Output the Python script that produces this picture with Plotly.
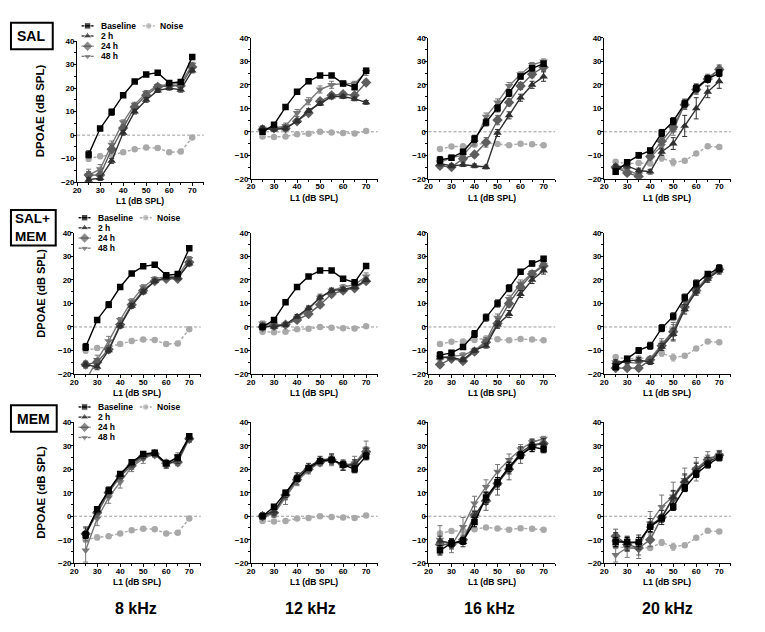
import plotly.graph_objects as go

W, H = 765, 632

L1 = [25, 30, 35, 40, 45, 50, 55, 60, 65, 70]
FREQS = ["8 kHz", "12 kHz", "16 kHz", "20 kHz"]
SERIES = ["Baseline", "2 h", "24 h", "48 h"]
X_TICKS = [20, 30, 40, 50, 60, 70]
Y_TICKS = [-20, -10, 0, 10, 20, 30, 40]

# Noise floor (same for every group at a given frequency)
NOISE_8K = [-10.0, -9.0, -8.5, -7.3, -6.0, -5.3, -5.5, -7.3, -7.0, -1.0]
NOISE_12K = [-2.0, -2.2, -2.0, -1.0, -0.8, 0.0, -0.3, -0.5, -0.7, 0.3]
NOISE_16K = [-7.3, -6.3, -6.2, -5.5, -4.8, -5.2, -5.7, -5.1, -5.3, -5.7]
NOISE_20K = [-12.8, -13.6, -13.3, -13.5, -11.2, -13.0, -12.3, -9.2, -6.2, -6.5]
NOISE_ERR_8K = [1.2, 1.0, 0.5, 0.5, 0.4, 0.4, 0.4, 0.4, 0.4, 0.4]
NOISE_ERR_12K = [0.5, 0.4, 0.4, 0.4, 0.4, 0.4, 0.4, 0.4, 0.4, 0.4]
NOISE_ERR_16K = [0.5, 0.4, 0.4, 0.5, 0.4, 0.4, 0.4, 0.4, 0.4, 0.4]
NOISE_ERR_20K = [0.6, 0.8, 0.8, 0.6, 1.3, 1.5, 0.8, 0.6, 0.6, 0.6]

# Each panel: [Baseline, 2 h, 24 h, 48 h]
SAL_8K = [[-8.2, 2.8, 9.8, 17.0, 22.8, 25.8, 26.6, 22.2, 22.6, 33.3],
          [-19.0, -18.3, -11.0, 1.0, 10.0, 15.0, 19.0, 20.0, 19.3, 27.5],
          [-17.0, -17.0, -6.0, 3.0, 12.0, 17.0, 20.5, 21.0, 21.0, 29.0],
          [-17.0, -14.5, -4.0, 5.5, 13.0, 18.0, 21.0, 21.5, 22.0, 30.0]]
SAL_12K = [[0.0, 3.0, 10.5, 17.0, 21.5, 24.0, 24.0, 20.5, 19.0, 26.0],
           [1.5, 1.0, 1.5, 4.5, 9.0, 12.0, 15.0, 15.0, 14.0, 12.5],
           [1.0, 1.5, 1.5, 4.5, 8.0, 13.0, 15.5, 16.0, 15.5, 21.0],
           [1.5, 1.5, 2.5, 8.0, 13.0, 18.0, 20.0, 20.5, 20.5, 25.5]]
SAL_16K = [[-12.0, -11.0, -8.5, -3.0, 4.0, 10.0, 16.5, 23.5, 27.0, 29.0],
           [-13.5, -14.5, -14.0, -14.5, -15.0, -0.5, 7.0, 14.5, 20.0, 23.5],
           [-14.5, -15.0, -11.5, -9.7, -4.5, 5.0, 12.5, 19.5, 24.5, 27.5],
           [-13.0, -11.0, -10.0, -4.5, 6.5, 12.5, 19.5, 24.5, 28.5, 30.0]]
SAL_20K = [[-17.0, -13.0, -10.0, -8.0, -0.5, 4.5, 12.0, 18.5, 22.5, 25.0],
           [-15.0, -14.5, -16.5, -17.0, -8.5, -5.0, 2.5, 10.0, 17.0, 21.5],
           [-15.0, -17.5, -19.0, -10.5, -4.0, 2.0, 11.5, 18.0, 22.5, 26.5],
           [-15.5, -16.0, -18.5, -11.0, -6.0, 0.5, 12.0, 18.5, 23.0, 26.5]]

SALMEM_8K = [[-8.5, 3.0, 9.5, 17.0, 22.8, 25.8, 26.5, 22.0, 22.5, 33.5],
             [-16.0, -17.0, -10.0, 0.5, 9.0, 15.0, 19.5, 21.0, 21.0, 27.0],
             [-16.0, -15.0, -9.5, 1.0, 9.5, 15.5, 19.5, 20.5, 20.5, 27.5],
             [-23.0, -14.0, -6.0, 3.0, 11.0, 17.0, 20.5, 21.5, 21.5, 29.0]]
SALMEM_12K = [[0.0, 3.0, 10.5, 17.0, 21.5, 24.0, 24.0, 20.5, 19.0, 26.0],
              [0.5, 0.0, 1.0, 4.5, 8.0, 12.5, 15.5, 16.0, 17.0, 20.0],
              [0.0, 0.5, 1.0, 3.0, 5.5, 9.5, 14.0, 15.5, 16.5, 19.5],
              [1.5, 1.0, 1.0, 4.0, 7.5, 12.5, 15.5, 17.0, 18.0, 21.5]]
SALMEM_16K = [[-12.0, -11.0, -8.5, -3.0, 4.0, 10.0, 16.5, 23.5, 27.0, 29.0],
              [-13.0, -13.0, -14.0, -10.0, -8.0, 1.0, 5.5, 14.0, 20.0, 24.0],
              [-16.0, -13.5, -14.5, -10.5, -6.5, 1.5, 10.0, 17.0, 22.5, 26.0],
              [-13.0, -12.5, -12.0, -10.0, -6.0, 4.0, 12.0, 18.5, 23.0, 26.5]]
SALMEM_20K = [[-17.0, -13.5, -10.0, -8.0, -0.5, 4.5, 12.5, 18.5, 22.5, 25.0],
              [-15.0, -14.5, -14.0, -15.0, -8.5, -3.0, 7.5, 15.0, 20.5, 24.0],
              [-17.5, -17.5, -17.5, -14.0, -8.0, -2.0, 8.5, 15.5, 21.0, 24.5],
              [-15.0, -15.0, -15.5, -13.5, -7.5, -1.5, 9.0, 16.0, 21.5, 24.5]]

MEM_8K = [[-8.0, 3.0, 11.0, 18.0, 23.0, 26.5, 27.0, 22.5, 25.0, 34.0],
          [-7.0, 2.5, 11.0, 17.5, 22.5, 26.0, 26.5, 22.0, 24.0, 33.5],
          [-7.5, 1.5, 10.0, 17.0, 21.5, 25.5, 26.5, 22.5, 23.0, 33.0],
          [-14.5, -1.0, 8.0, 14.5, 21.0, 24.5, 26.5, 22.0, 25.5, 33.0]]
MEM_12K = [[0.0, 4.0, 10.0, 16.0, 20.5, 23.5, 24.0, 22.0, 20.0, 25.5],
           [0.5, 2.0, 9.5, 17.0, 21.0, 24.0, 24.5, 21.5, 22.0, 27.0],
           [0.0, 1.5, 9.0, 15.5, 20.0, 23.0, 24.0, 22.0, 22.0, 27.5],
           [0.0, 1.0, 8.0, 15.0, 19.5, 23.0, 24.0, 21.5, 22.5, 28.5]]
MEM_16K = [[-14.5, -11.5, -10.5, -2.5, 8.0, 14.5, 21.0, 26.0, 29.5, 28.5],
           [-10.5, -11.5, -11.0, 0.0, 7.5, 14.0, 20.5, 27.0, 30.5, 31.0],
           [-12.0, -12.0, -10.0, 0.5, 6.5, 14.0, 20.0, 26.0, 30.0, 31.0],
           [-10.0, -12.5, -4.5, 5.5, 12.5, 19.0, 24.0, 28.5, 31.5, 33.0]]
MEM_20K = [[-11.0, -11.0, -11.0, -4.5, -1.0, 4.0, 12.0, 18.0, 22.0, 25.0],
           [-10.0, -11.5, -11.0, -4.0, -0.5, 8.0, 15.0, 19.5, 23.0, 25.5],
           [-8.5, -12.0, -13.5, -10.0, -0.5, 7.5, 14.5, 20.0, 24.0, 26.0],
           [-16.5, -13.5, -13.5, -3.0, 4.0, 8.5, 15.5, 20.0, 24.5, 26.0]]

# Error bars (SEM), same layout as the panels
SAL_8K_ERR = [[1.5, 0.6, 1.3, 0.8, 0.6, 0.6, 0.6, 0.6, 0.6, 0.8],
              [1.0, 1.0, 1.0, 1.0, 1.0, 1.0, 0.8, 0.8, 1.0, 1.0],
              [1.5, 1.5, 1.2, 1.0, 1.0, 1.0, 0.8, 0.8, 0.8, 1.0],
              [2.5, 2.0, 1.5, 1.0, 1.0, 1.0, 0.8, 0.8, 1.0, 1.0]]
SAL_12K_ERR = [[0.8, 0.6, 0.6, 0.6, 0.6, 0.6, 0.6, 0.6, 1.0, 1.0],
               [0.8, 0.8, 0.8, 0.8, 0.8, 0.8, 1.0, 0.8, 0.8, 0.8],
               [0.8, 0.8, 0.8, 0.8, 1.0, 1.0, 1.0, 1.0, 1.0, 1.0],
               [1.0, 1.0, 1.2, 1.5, 1.5, 1.5, 1.5, 1.0, 1.0, 1.5]]
SAL_16K_ERR = [[1.5, 1.0, 1.0, 1.5, 1.5, 1.5, 1.5, 1.0, 1.0, 1.0],
               [1.0, 0.8, 0.8, 0.8, 0.8, 1.5, 1.5, 1.5, 1.5, 2.0],
               [1.0, 1.0, 1.0, 1.0, 2.0, 2.0, 1.5, 1.5, 1.5, 1.5],
               [1.0, 1.0, 1.0, 1.5, 1.5, 1.5, 1.5, 1.0, 1.0, 1.0]]
SAL_20K_ERR = [[1.2, 1.0, 1.2, 1.0, 1.5, 1.5, 1.5, 1.5, 1.5, 1.5],
               [1.0, 1.0, 1.0, 1.0, 1.5, 2.5, 4.5, 4.5, 2.5, 3.0],
               [1.0, 1.0, 1.0, 1.0, 1.5, 2.0, 2.0, 2.0, 1.5, 1.5],
               [1.0, 1.0, 1.0, 1.0, 1.5, 2.0, 2.0, 2.0, 1.5, 2.0]]
SALMEM_8K_ERR = [[1.5, 0.6, 1.3, 0.8, 0.6, 0.6, 0.6, 0.6, 0.6, 0.8],
                 [1.0, 1.2, 1.0, 1.0, 1.0, 1.0, 0.8, 0.8, 1.0, 1.0],
                 [1.5, 1.5, 1.2, 1.0, 1.0, 1.0, 0.8, 0.8, 0.8, 1.0],
                 [2.0, 2.0, 2.0, 1.0, 1.0, 1.0, 0.8, 0.8, 1.0, 1.0]]
SALMEM_12K_ERR = [[0.8, 0.6, 0.6, 0.6, 0.6, 0.6, 0.6, 0.6, 1.0, 1.0],
                  [1.0, 0.8, 0.8, 0.8, 0.8, 1.0, 1.0, 0.8, 0.8, 0.8],
                  [0.8, 0.8, 0.8, 0.8, 1.0, 1.0, 1.0, 1.0, 1.0, 1.0],
                  [1.0, 1.0, 1.0, 1.0, 1.5, 1.5, 1.0, 1.0, 1.0, 1.5]]
SALMEM_16K_ERR = [[1.5, 1.0, 1.0, 1.5, 1.5, 1.5, 1.5, 1.0, 1.0, 1.0],
                  [1.0, 1.0, 0.8, 0.8, 1.0, 1.5, 1.5, 1.5, 1.5, 1.5],
                  [1.0, 1.0, 1.0, 1.0, 1.0, 2.0, 1.5, 1.5, 1.5, 1.5],
                  [1.0, 1.0, 1.0, 1.0, 1.5, 1.5, 1.5, 1.5, 1.0, 1.0]]
SALMEM_20K_ERR = [[1.2, 1.0, 1.2, 1.5, 1.5, 1.5, 1.5, 1.5, 1.0, 1.5],
                  [1.0, 1.0, 1.0, 1.0, 1.5, 2.5, 2.0, 1.5, 1.5, 1.5],
                  [1.0, 1.0, 1.0, 1.0, 2.0, 4.0, 2.0, 1.5, 1.5, 1.5],
                  [1.0, 1.0, 1.5, 1.0, 2.5, 2.5, 2.0, 1.5, 1.5, 1.5]]
MEM_8K_ERR = [[1.5, 1.0, 1.0, 1.0, 1.0, 1.0, 1.0, 1.0, 1.0, 1.0],
              [2.0, 1.5, 1.5, 1.5, 1.5, 1.5, 1.0, 1.5, 1.5, 1.5],
              [3.0, 2.0, 2.0, 1.5, 1.5, 1.5, 1.0, 1.5, 1.5, 1.5],
              [5.0, 3.0, 2.5, 2.5, 2.0, 2.0, 1.5, 1.5, 1.5, 1.5]]
MEM_12K_ERR = [[1.0, 1.0, 1.0, 1.0, 1.0, 1.0, 1.0, 1.0, 1.5, 1.5],
               [1.0, 1.5, 1.5, 1.5, 1.5, 1.5, 2.0, 2.0, 2.0, 2.0],
               [1.0, 1.5, 2.0, 2.0, 1.5, 1.5, 2.0, 2.0, 2.0, 2.0],
               [1.0, 1.5, 3.0, 2.0, 1.5, 1.5, 2.5, 2.0, 3.0, 3.5]]
MEM_16K_ERR = [[2.0, 1.5, 1.5, 2.0, 2.0, 2.0, 2.0, 1.5, 2.0, 1.5],
               [2.0, 2.0, 2.0, 2.0, 2.5, 2.5, 2.5, 2.5, 2.0, 2.0],
               [2.0, 2.0, 2.0, 3.5, 4.0, 5.0, 4.5, 3.5, 2.5, 2.0],
               [6.0, 3.0, 4.0, 3.0, 3.0, 3.0, 2.5, 2.0, 1.5, 1.0]]
MEM_20K_ERR = [[2.0, 2.0, 2.0, 2.0, 1.5, 1.5, 1.5, 1.5, 1.5, 1.0],
               [3.0, 3.0, 3.0, 3.0, 3.0, 3.0, 3.0, 3.0, 2.0, 2.0],
               [3.0, 3.0, 3.0, 3.0, 3.0, 3.0, 3.0, 3.0, 2.0, 2.0],
               [3.0, 4.0, 4.5, 5.0, 5.0, 6.0, 5.0, 5.0, 3.0, 2.0]]

PANELS = [[SAL_8K, SAL_12K, SAL_16K, SAL_20K],
          [SALMEM_8K, SALMEM_12K, SALMEM_16K, SALMEM_20K],
          [MEM_8K, MEM_12K, MEM_16K, MEM_20K]]
PANEL_ERRS = [[SAL_8K_ERR, SAL_12K_ERR, SAL_16K_ERR, SAL_20K_ERR],
              [SALMEM_8K_ERR, SALMEM_12K_ERR, SALMEM_16K_ERR, SALMEM_20K_ERR],
              [MEM_8K_ERR, MEM_12K_ERR, MEM_16K_ERR, MEM_20K_ERR]]
NOISE = [NOISE_8K, NOISE_12K, NOISE_16K, NOISE_20K]
NOISE_ERR = [NOISE_ERR_8K, NOISE_ERR_12K, NOISE_ERR_16K, NOISE_ERR_20K]

# ---------------- styling ----------------
FONT = "Liberation Sans, Arial, sans-serif"
STY = {
    "Baseline": dict(color="#000000", symbol="square", size=6.5),
    "2 h": dict(color="#2f2f2f", symbol="triangle-up", size=7.5),
    "24 h": dict(color="#5e5e5e", symbol="diamond", size=8),
    "48 h": dict(color="#777777", symbol="triangle-down", size=7.5),
}
NOISE_COLOR = "#a9a9a9"
LW = 1.4

# plot-area geometry in pixels
X_LEFT = [[73.5, 248.3, 426.7, 603.3], [70.5, 248.3, 426.7, 603.3], [70.5, 248.3, 426.7, 603.3]]
Y_TOP = [[37.7, 34.3, 34.3, 34.3], [232.3, 232.3, 232.3, 232.3], [424.3, 424.3, 424.3, 424.3]]
PW, PH = 127.3, 143.0


def px(x):
    return x / W


def py(y):
    return 1 - y / H


fig = go.Figure()
layout = dict(
    width=W, height=H, margin=dict(l=0, r=0, t=0, b=0),
    paper_bgcolor="white", plot_bgcolor="rgba(0,0,0,0)",
    showlegend=False, font=dict(family=FONT, color="black"),
)
shapes, annotations = [], []

for r in range(3):
    for c in range(4):
        n = r * 4 + c + 1
        xa, ya = ("x", "y") if n == 1 else (f"x{n}", f"y{n}")
        xl, yt = X_LEFT[r][c], Y_TOP[r][c]
        axis_common = dict(
            showline=True, linecolor="black", linewidth=1, ticks="outside",
            ticklen=3, tickwidth=1, tickcolor="black", showgrid=False, zeroline=False,
            tickfont=dict(family=FONT, size=8, color="black", weight="bold"),
            fixedrange=True, ticklabelstandoff=-3,
        )
        layout[f"xaxis{'' if n == 1 else n}"] = dict(
            axis_common, domain=[px(xl), px(xl + PW)], range=[20, 75],
            tickvals=X_TICKS, anchor=ya,
            minor=dict(tickvals=[25, 35, 45, 55, 65, 75], ticks="outside", ticklen=2, tickcolor="black"),
        )
        layout[f"yaxis{'' if n == 1 else n}"] = dict(
            axis_common, domain=[py(yt + PH), py(yt)], range=[-20, 40],
            tickvals=Y_TICKS, anchor=xa,
            minor=dict(tickvals=[-15, -5, 5, 15, 25, 35], ticks="outside", ticklen=2, tickcolor="black"),
        )
        # dashed zero line
        shapes.append(dict(type="line", xref=f"{xa} domain", yref=ya, x0=0, x1=1, y0=0, y1=0,
                           line=dict(color="#9a9a9a", width=1, dash="3px,2px"), layer="below"))
        # noise
        fig.add_trace(go.Scatter(
            x=L1, y=NOISE[c], xaxis=xa, yaxis=ya, mode="lines+markers", name="Noise",
            line=dict(color=NOISE_COLOR, width=LW, dash="3px,2px"),
            marker=dict(color=NOISE_COLOR, symbol="circle", size=6.5),
            error_y=dict(type="data", array=NOISE_ERR[c], color=NOISE_COLOR, thickness=1, width=2),
        ))
        for si in [3, 2, 1, 0]:
            s = SERIES[si]
            st = STY[s]
            fig.add_trace(go.Scatter(
                x=L1, y=PANELS[r][c][si], xaxis=xa, yaxis=ya, mode="lines+markers", name=s,
                line=dict(color=st["color"], width=LW),
                marker=dict(color=st["color"], symbol=st["symbol"], size=st["size"]),
                error_y=dict(type="data", array=PANEL_ERRS[r][c][si], color=st["color"], thickness=1, width=2.5),
            ))
        # x-axis title
        annotations.append(dict(
            text="L1 (dB SPL)", xref="paper", yref="paper",
            x=px(xl + 63.6), y=py(yt + PH + 19),
            showarrow=False, xanchor="center", yanchor="middle",
            font=dict(family=FONT, size=8.5, color="black", weight="bold"),
        ))

# y-axis titles
for r, yc in enumerate([108, 293, 495]):
    annotations.append(dict(
        text="DPOAE (dB SPL)", xref="paper", yref="paper", x=px(37), y=py(yc),
        textangle=-90, showarrow=False, xanchor="center", yanchor="middle", borderpad=0,
        font=dict(family=FONT, size=11.5 if r != 1 else 11, color="black", weight="bold"),
    ))

# group boxes: (x0, y0, x1, y1), label, font size
BOXES = [(7, 19, 49, 46), (7, 209, 52, 245), (7, 407, 53, 434)]
BOX_TEXT = [("SAL", 14), ("SAL+<br>MEM", 13.5), ("MEM", 14)]
for (x0, y0, x1, y1), (t, fs) in zip(BOXES, BOX_TEXT):
    shapes.append(dict(type="rect", xref="paper", yref="paper",
                       x0=px(x0), x1=px(x1), y0=py(y1), y1=py(y0),
                       line=dict(color="black", width=2), fillcolor="white", layer="above"))
    annotations.append(dict(
        text=t, xref="paper", yref="paper", x=px((x0 + x1) / 2 - 0.5), y=py((y0 + y1) / 2),
        showarrow=False, xanchor="center", yanchor="middle", borderpad=0, align="left",
        font=dict(family=FONT, size=fs, color="black", weight="bold"),
    ))

# column titles
for c, (f, cx) in enumerate(zip(FREQS, [133, 308, 488, 667])):
    annotations.append(dict(
        text=f, xref="paper", yref="paper", x=px(cx), y=py(613), showarrow=False,
        xanchor="center", yanchor="middle",
        font=dict(family=FONT, size=16, color="black", weight="bold"),
    ))

# legends (manual, drawn on an overlay axis in pixel units)
layout["xaxis13"] = dict(domain=[0, 1], range=[0, W], visible=False, fixedrange=True, anchor="y13")
layout["yaxis13"] = dict(domain=[0, 1], range=[H, 0], visible=False, fixedrange=True, anchor="x13")
LEG_DY = [-15.5, -5.2, 5.1, 15.4]
for r in range(3):
    xl, yt = X_LEFT[r][0], Y_TOP[r][0]
    for si, s in enumerate(SERIES):
        st = STY[s]
        yy = yt + LEG_DY[si]
        fig.add_trace(go.Scatter(
            x=[xl + 4.5, xl + 10.5, xl + 16.5], y=[yy, yy, yy], xaxis="x13", yaxis="y13",
            mode="lines+markers", line=dict(color=st["color"], width=LW),
            marker=dict(color=st["color"], symbol=st["symbol"], size=[0, st["size"], 0]),
            hoverinfo="skip",
        ))
        annotations.append(dict(
            text=s, xref="paper", yref="paper", x=px(xl + 21.5), y=py(yy), showarrow=False,
            xanchor="left", yanchor="middle",
            font=dict(family=FONT, size=8.5, color="black", weight="bold"),
        ))
    yy = yt + LEG_DY[0]
    fig.add_trace(go.Scatter(
        x=[xl + 66, xl + 72, xl + 78], y=[yy, yy, yy], xaxis="x13", yaxis="y13",
        mode="lines+markers", line=dict(color=NOISE_COLOR, width=LW, dash="3px,2px"),
        marker=dict(color=NOISE_COLOR, symbol="circle", size=[0, 6.5, 0]), hoverinfo="skip",
    ))
    annotations.append(dict(
        text="Noise", xref="paper", yref="paper", x=px(xl + 81.5), y=py(yy), showarrow=False,
        xanchor="left", yanchor="middle",
        font=dict(family=FONT, size=8.5, color="black", weight="bold"),
    ))

layout["shapes"] = shapes
layout["annotations"] = annotations
fig.update_layout(layout)
fig.write_html(
    "out.html",
    config={"displayModeBar": False},
    post_script="document.body.style.margin='0';document.body.style.padding='0';",
)
